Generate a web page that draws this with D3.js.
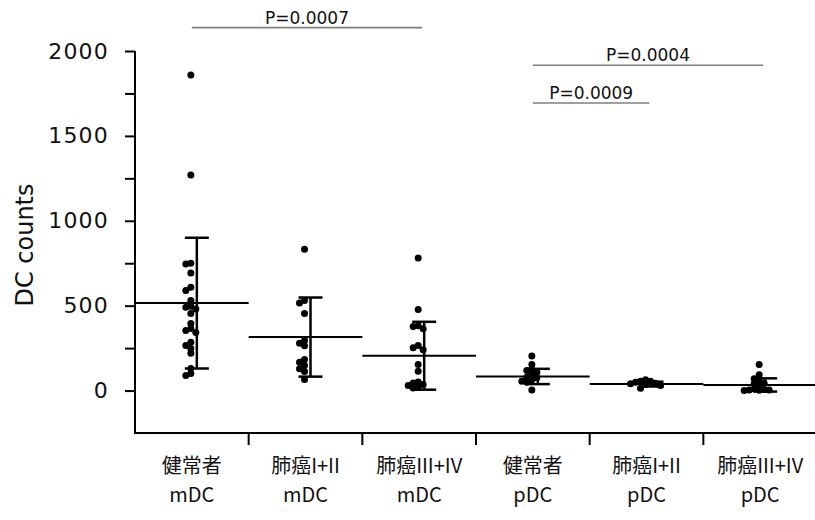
<!DOCTYPE html>
<html>
<head>
<meta charset="utf-8">
<script src="https://cdn.jsdelivr.net/npm/d3@7"></script>
<style>
  html, body { margin: 0; padding: 0; background: #fff; }
  svg { display: block; }
</style>
</head>
<body>
<svg id="chart" width="815" height="520"></svg>
<script>
// ---- data ----
const groupNames = ["健常者", "肺癌I+II", "肺癌III+IV", "健常者", "肺癌I+II", "肺癌III+IV"];
const cellTypes  = ["mDC", "mDC", "mDC", "pDC", "pDC", "pDC"];

const healthyMDC  = [1858, 1270, 750, 745, 692, 608, 590, 531, 496, 490, 480, 454, 395, 366, 354, 342, 285, 265, 248, 220, 130, 100, 89];
const cancer12MDC = [832, 531, 515, 454, 295, 279, 264, 183, 167, 148, 128, 112, 65];
const cancer34MDC = [781, 478, 382, 378, 364, 265, 252, 240, 153, 114, 50, 45, 35, 30, 20, 15];
const healthyPDC  = [203, 153, 122, 118, 108, 94, 78, 75, 63, 55, 49, 4];
const cancer12PDC = [63, 55, 55, 49, 43, 40, 35, 30, 14];
const cancer34PDC = [153, 93, 69, 63, 43, 40, 30, 10, 6, 4, 4, 2, 0];

const means = [515, 315, 205, 83, 38, 33];
const sds   = [385, 233, 200, 45, 14, 39];

const yTicks = [0, 250, 500, 750, 1000, 1250, 1500, 1750, 2000];
const yLabelTicks = [0, 500, 1000, 1500, 2000];

const comparisons = [
  { from: 0, to: 2, label: "P=0.0007", level: 2 },
  { from: 3, to: 5, label: "P=0.0004", level: 1 },
  { from: 3, to: 4, label: "P=0.0009", level: 0 }
];

const seriesValues = [healthyMDC, cancer12MDC, cancer34MDC, healthyPDC, cancer12PDC, cancer34PDC];

// ---- drawing ----
const svg = d3.select("#chart");
const keys = d3.range(groupNames.length);

const x = d3.scaleBand().domain(keys).range([135, 817]).padding(0);
const y = d3.scaleLinear().domain([-250, 2000]).range([433, 51]);
const bw = x.bandwidth();

// y axis
const yAxis = d3.axisLeft(y)
  .tickValues(yTicks)
  .tickSize(10)
  .tickPadding(16)
  .tickFormat(d => yLabelTicks.includes(d) ? d : "");
const gy = svg.append("g").attr("transform", "translate(135,0)").call(yAxis);
gy.select(".domain").attr("d", `M0,${y(2000)}V${y(-250)}`).attr("stroke", "#000").attr("stroke-width", 2);
gy.selectAll(".tick line").attr("stroke", "#000").attr("stroke-width", 2);
gy.selectAll(".tick text")
  .attr("fill", "#111")
  .style("font-family", "'DejaVu Sans', Verdana, sans-serif")
  .style("font-size", "22px")
  .style("letter-spacing", "1.2px");

// x axis line + separator ticks
svg.append("line")
  .attr("x1", 134).attr("x2", 815)
  .attr("y1", y(-250)).attr("y2", y(-250))
  .attr("stroke", "#000").attr("stroke-width", 2);
svg.append("g").selectAll("line")
  .data(keys.slice(1))
  .join("line")
  .attr("x1", d => x(d)).attr("x2", d => x(d))
  .attr("y1", y(-250)).attr("y2", y(-250) + 12)
  .attr("stroke", "#000").attr("stroke-width", 2);

// category labels
const labG = svg.append("g")
  .style("font-family", "'Noto Sans CJK JP', 'Noto Sans', sans-serif")
  .style("font-size", "20px")
  .attr("fill", "#111")
  .attr("text-anchor", "middle");
labG.selectAll("text.l1").data(keys).join("text")
  .attr("class", "l1")
  .attr("x", d => x(d) + bw / 2)
  .attr("y", 473)
  .text(d => groupNames[d]);
labG.selectAll("text.l2").data(keys).join("text")
  .attr("class", "l2")
  .attr("x", d => x(d) + bw / 2)
  .attr("y", 502)
  .text(d => cellTypes[d]);

// y axis title
svg.append("text")
  .attr("transform", "translate(33,245) rotate(-90)")
  .attr("text-anchor", "middle")
  .style("font-family", "'DejaVu Sans', Verdana, sans-serif")
  .style("font-size", "24px")
  .attr("fill", "#111")
  .text("DC counts");

// mean lines
svg.append("g").selectAll("line")
  .data(keys)
  .join("line")
  .attr("x1", d => x(d)).attr("x2", d => x(d) + bw)
  .attr("y1", d => y(means[d])).attr("y2", d => y(means[d]))
  .attr("stroke", "#000").attr("stroke-width", 2);

// error bars (mean ± SD)
const ebG = svg.append("g").attr("stroke", "#000").attr("stroke-width", 2.5);
keys.forEach(d => {
  const cx = x(d) + bw / 2 + 5;
  const top = y(means[d] + sds[d]);
  const bot = y(means[d] - sds[d]);
  ebG.append("line").attr("x1", cx).attr("x2", cx).attr("y1", top).attr("y2", bot);
  ebG.append("line").attr("x1", cx - 12).attr("x2", cx + 12).attr("y1", top).attr("y2", top);
  ebG.append("line").attr("x1", cx - 12).attr("x2", cx + 12).attr("y1", bot).attr("y2", bot);
});

// points (simple beeswarm layout)
const r = 3.5;
const minDist = 4.6;
const step = 5;
const dotG = svg.append("g").attr("fill", "#000");
seriesValues.forEach((vals, gi) => {
  const cx = x(gi) + bw / 2 - 1;
  const placed = [];
  const sorted = vals.slice().sort((a, b) => b - a);
  sorted.forEach(v => {
    const py = y(v);
    let off = 0;
    const steps = [0, -1, 1, -2, 2, -3, 3];
    for (const s of steps) {
      const px = cx + s * step;
      if (placed.every(p => Math.hypot(p[0] - px, p[1] - py) >= minDist)) { off = s * step; break; }
    }
    placed.push([cx + off, py]);
  });
  dotG.selectAll(null).data(placed).join("circle")
    .attr("cx", p => p[0]).attr("cy", p => p[1]).attr("r", r);
});

// significance brackets
const sigG = svg.append("g");
comparisons.forEach(c => {
  const ly = 103 - c.level * 37.7;
  const x1 = x(c.from) + bw / 2;
  const x2 = x(c.to) + bw / 2 + 3;
  sigG.append("line")
    .attr("x1", x1).attr("x2", x2).attr("y1", ly).attr("y2", ly)
    .attr("stroke", "#7f7f7f").attr("stroke-width", 1.6);
  sigG.append("text")
    .attr("x", (x1 + x2) / 2)
    .attr("y", ly - 4)
    .attr("text-anchor", "middle")
    .style("font-family", "'DejaVu Sans', Verdana, sans-serif")
    .style("font-size", "17px")
    .attr("fill", "#111")
    .text(c.label);
});
</script>
</body>
</html>
